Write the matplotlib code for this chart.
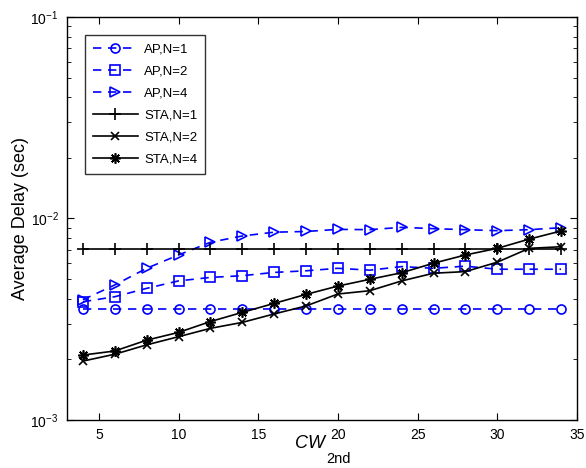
import matplotlib
matplotlib.use("Agg")
import matplotlib.pyplot as plt
from matplotlib.ticker import LogLocator, NullFormatter, FixedLocator

plt.rcParams['font.family'] = ['Liberation Sans', 'DejaVu Sans']
plt.rcParams['mathtext.fontset'] = 'custom'
plt.rcParams['mathtext.rm'] = 'Liberation Sans'
plt.rcParams['mathtext.it'] = 'Liberation Sans:italic'

cw = [4, 6, 8, 10, 12, 14, 16, 18, 20, 22, 24, 26, 28, 30, 32, 34]

ap_n1 = [0.00356] * 16
ap_n2 = [0.00386, 0.00409, 0.0045, 0.0049, 0.0051, 0.0052, 0.0054, 0.0055,
         0.00566, 0.00554, 0.00577, 0.00566, 0.0058, 0.0056, 0.0056, 0.0056]
ap_n4 = [0.00395, 0.00468, 0.00566, 0.00659, 0.00762, 0.00819, 0.00855, 0.00862,
         0.00883, 0.0088, 0.00904, 0.0089, 0.0088, 0.0087, 0.0088, 0.0090]
sta_n1 = [0.00703] * 16
sta_n2 = [0.00196, 0.00212, 0.00236, 0.00259, 0.00285, 0.00305, 0.00336, 0.00368,
          0.00422, 0.00438, 0.0049, 0.00535, 0.00545, 0.00607, 0.00711, 0.00724]
sta_n4 = [0.0021, 0.0022, 0.00249, 0.00272, 0.00308, 0.00342, 0.00379, 0.0042,
          0.00462, 0.00499, 0.00538, 0.0060, 0.00659, 0.00711, 0.0079, 0.00867]

labels = ['AP,N=1', 'AP,N=2', 'AP,N=4', 'STA,N=1', 'STA,N=2', 'STA,N=4']
xticks = [5, 10, 15, 20, 25, 30, 35]

fig = plt.figure(figsize=(5.86, 4.68), dpi=100)
ax = fig.add_axes([0.1143, 0.1026, 0.8703, 0.8611])

blue = (0, 0, 1)
dash = dict(color=blue, linestyle=(0, (5, 4)), linewidth=1.2,
            markerfacecolor='none', markeredgecolor=blue, markeredgewidth=1.2)
solid = dict(color='black', linestyle='-', linewidth=1.2,
             markeredgecolor='black', markeredgewidth=1.2)

ax.plot(cw, ap_n1, marker='o', markersize=6.5, label=labels[0], **dash)
ax.plot(cw, ap_n2, marker='s', markersize=6.5, label=labels[1], **dash)
ax.plot(cw, ap_n4, marker='>', markersize=7.5, label=labels[2], **dash)
ax.plot(cw, sta_n1, marker='+', markersize=8, label=labels[3], **solid)
ax.plot(cw, sta_n2, marker='x', markersize=6, label=labels[4], **solid)
ax.plot(cw, sta_n4, marker=(8, 2, 0), markersize=7.5, label=labels[5], **solid)

ax.set_yscale('log')
ax.set_xlim(3, 35)
ax.set_ylim(1e-3, 1e-1)
ax.xaxis.set_major_locator(FixedLocator(xticks))
ax.yaxis.set_major_locator(LogLocator(base=10))
ax.yaxis.set_minor_locator(LogLocator(base=10, subs=range(2, 10)))
ax.yaxis.set_minor_formatter(NullFormatter())

ax.tick_params(which='both', direction='in', top=True, right=True,
               labelsize=10, color='black')
ax.tick_params(which='major', length=5, width=0.8, pad=6)
ax.tick_params(which='minor', length=3, width=0.6)
for s in ax.spines.values():
    s.set_linewidth(1.0)

ax.set_ylabel('Average Delay (sec)', fontsize=13, labelpad=1)

# x-axis label: italic CW with a lowered "2nd" subscript
fig.text(0.5546, 0.0427, 'CW', fontsize=13, style='italic',
         ha='right', va='baseline')
fig.text(0.5560, 0.0107, '2nd', fontsize=10.5, ha='left', va='baseline')

leg = ax.legend(loc='upper left', bbox_to_anchor=(0.035, 0.955), fontsize=9.5,
                frameon=True, fancybox=False, edgecolor='black',
                handlelength=3.4, borderpad=0.6, labelspacing=0.75,
                handletextpad=0.5, borderaxespad=0)
leg.get_frame().set_linewidth(1.0)

fig.savefig('out.png', dpi=100)
